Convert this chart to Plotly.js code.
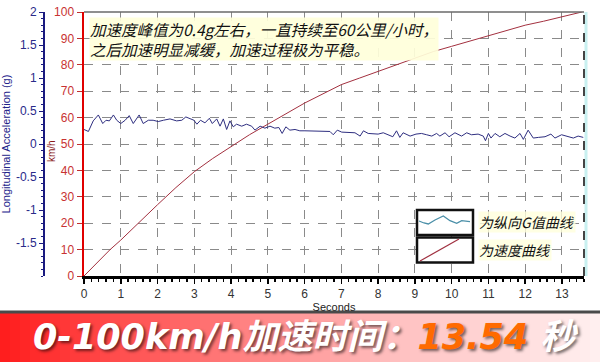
<!DOCTYPE html>
<html>
<head>
<meta charset="utf-8">
<script src="https://cdn.plot.ly/plotly-3.0.1.min.js"></script>
<style>html,body{margin:0;padding:0;background:#fff;}#chart{width:600px;height:362px;}</style>
</head>
<body>
<div id="chart"></div>
<script>
// ---- data ----
const gTime = [0.00,0.12,0.25,0.39,0.51,0.60,0.69,0.80,0.89,1.00,1.12,1.23,1.34,1.41,1.50,1.61,1.75,1.88,2.02,2.16,2.34,2.52,2.66,2.77,2.88,2.99,3.07,3.17,3.29,3.41,3.49,3.61,3.70,3.79,3.88,3.97,4.06,4.15,4.29,4.42,4.56,4.65,4.79,4.92,5.06,5.19,5.30,5.39,5.49,5.60,5.74,5.87,6.01,6.19,6.37,6.55,6.69,6.78,6.89,7.01,7.19,7.37,7.51,7.60,7.73,7.87,8.00,8.14,8.28,8.40,8.50,8.59,8.68,8.87,9.03,9.18,9.32,9.46,9.59,9.68,9.82,9.93,10.09,10.27,10.41,10.54,10.72,10.86,10.92,11.00,11.07,11.18,11.31,11.45,11.59,11.72,11.86,11.95,12.08,12.22,12.36,12.54,12.70,12.81,12.99,13.13,13.31,13.44,13.58];
const gValue = [0.22,0.19,0.35,0.44,0.31,0.36,0.35,0.44,0.36,0.31,0.36,0.43,0.31,0.36,0.44,0.31,0.36,0.36,0.34,0.36,0.38,0.35,0.36,0.41,0.38,0.36,0.30,0.36,0.32,0.39,0.31,0.38,0.27,0.38,0.22,0.35,0.26,0.30,0.27,0.30,0.27,0.21,0.27,0.24,0.27,0.24,0.25,0.16,0.26,0.21,0.22,0.20,0.20,0.20,0.19,0.20,0.19,0.14,0.21,0.18,0.18,0.17,0.12,0.20,0.16,0.16,0.15,0.17,0.14,0.11,0.20,0.10,0.17,0.12,0.15,0.16,0.14,0.12,0.16,0.12,0.17,0.11,0.17,0.12,0.17,0.14,0.15,0.12,0.05,0.16,0.09,0.16,0.11,0.16,0.12,0.09,0.16,0.07,0.21,0.09,0.10,0.11,0.15,0.09,0.14,0.12,0.09,0.12,0.10];
const speedTime = [0,0.25,0.5,0.71,1,1.5,2,2.5,3,3.5,4,4.5,5,5.5,6,6.5,7,7.5,8,8.5,9,9.5,10,10.5,11,11.5,12,12.5,13,13.54];
const speedValue = [0,3.5,7,10,13.6,20.5,27,33.5,39.5,44.5,49,53.5,57.5,61.5,65.5,69,72.5,75,77.5,80,82.5,85,87,89,91,93,95,96.5,98.3,100];
const gTickVals = [-1.5,-1,-0.5,0,0.5,1,1.5,2];
const gTickText = ['-1.5','-1','-0.5','0','0.5','1','1.5','2'];
const noteLines = ['加速度峰值为0.4g左右，一直持续至60公里/小时，','之后加速明显减缓，加速过程极为平稳。'];
const legendLabels = ['为纵向G值曲线','为速度曲线'];
const speedAxisTitle = 'km/h';
const bannerMain = '0-100km/h加速时间：';
const bannerValue = '13.54';
const bannerUnit = '秒';

// ---- layout helpers (pixel -> paper) ----
const ML = 44, MT = 12, PW = 540, PH = 264;
const px = x => (x - ML) / PW;
const py = y => (MT + PH - y) / PH;

const shapes = [];
// banner gradient
const stops = [[0,[255,28,28]],[0.35,[255,115,115]],[0.65,[255,190,190]],[1,[255,240,240]]];
function grad(t){
  for (let i=0;i<stops.length-1;i++){
    const [a,ca]=stops[i],[b,cb]=stops[i+1];
    if (t>=a && t<=b){const f=(t-a)/(b-a);return 'rgb('+ca.map((c,k)=>Math.round(c+(cb[k]-c)*f)).join(',')+')';}
  }
  return 'rgb(255,240,240)';
}
for (let i=0;i<60;i++){
  shapes.push({type:'rect',xref:'paper',yref:'paper',x0:px(i*10),x1:px(i*10+11),y0:py(362),y1:py(312),
    fillcolor:grad((i*10+5)/600),line:{width:0},layer:'below'});
}
shapes.push({type:'line',xref:'paper',yref:'paper',x0:px(0),x1:px(600),y0:py(312),y1:py(312),line:{color:'#4a4a4a',width:3}});
// top border and right dashed border
shapes.push({type:'line',xref:'paper',yref:'paper',x0:px(84),x1:px(584),y0:1,y1:1,line:{color:'#6a6a6a',width:1.5}});
shapes.push({type:'line',xref:'paper',yref:'paper',x0:px(586),x1:px(586),y0:0,y1:1,line:{color:'#c8f0f0',width:3},layer:'below'});
shapes.push({type:'line',xref:'paper',yref:'paper',x0:1,x1:1,y0:0,y1:1,line:{color:'#444',width:2,dash:'dash'}});
// legend boxes
[[210,235],[237.5,262.5]].forEach(([a,b])=>{
  shapes.push({type:'rect',xref:'paper',yref:'paper',x0:px(417),x1:px(473),y0:py(b),y1:py(a),
    fillcolor:'#fff',line:{color:'#111',width:2.5}});
});
const wave = [[419,221],[424,223],[428.3,224],[435,220],[443.3,216],[450,220.7],[456.7,223.3],[461.7,220.7],[470,221.7]];
shapes.push({type:'path',xref:'paper',yref:'paper',
  path:'M'+wave.map(p=>px(p[0])+','+py(p[1])).join(' L'),line:{color:'#4a8fa8',width:1.3}});
shapes.push({type:'line',xref:'paper',yref:'paper',x0:px(420),y0:py(261),x1:px(459),y1:py(239),line:{color:'#a03040',width:1.2}});

const annotations = [
  {xref:'paper',yref:'paper',x:px(89),y:py(17),xanchor:'left',yanchor:'top',align:'left',showarrow:false,
   text:'<i>'+noteLines[0]+'<br>'+noteLines[1]+'</i>',font:{family:'Noto Sans CJK SC',size:15.5,color:'#111'},
   bgcolor:'rgba(255,255,218,0.92)',borderpad:0},
  {xref:'paper',yref:'paper',x:px(478),y:py(222),xanchor:'left',yanchor:'middle',showarrow:false,
   text:'<i>'+legendLabels[0]+'</i>',font:{family:'Noto Sans CJK SC',size:14,color:'#111'},bgcolor:'rgba(255,255,220,0.8)',borderpad:0},
  {xref:'paper',yref:'paper',x:px(478),y:py(250),xanchor:'left',yanchor:'middle',showarrow:false,
   text:'<i>'+legendLabels[1]+'</i>',font:{family:'Noto Sans CJK SC',size:14,color:'#111'},bgcolor:'rgba(255,255,220,0.8)',borderpad:0},
  {xref:'paper',yref:'paper',x:px(51),y:py(151),xanchor:'center',yanchor:'middle',showarrow:false,textangle:-90,
   text:speedAxisTitle,font:{family:'Liberation Sans, Arial',size:10,color:'#8b1a1a'}},
  {xref:'paper',yref:'paper',x:px(305),y:py(337),xanchor:'center',yanchor:'middle',showarrow:false,
   text:'<b><i>'+bannerMain+'<span style="color:#ff6a00">'+bannerValue+'</span> '+bannerUnit+'</i></b>',
   font:{family:'DejaVu Sans, Noto Sans CJK SC',size:35,color:'#ffffff',shadow:'2px 2px 3px rgba(0,0,0,0.55)'}}
];

const traces = [
  {x:speedTime,y:speedValue,type:'scatter',mode:'lines',xaxis:'x',yaxis:'y',line:{color:'#a3303f',width:1},hoverinfo:'skip'},
  {x:gTime,y:gValue,type:'scatter',mode:'lines',xaxis:'x',yaxis:'y2',line:{color:'#2e2e80',width:1},hoverinfo:'skip'}
];

const layout = {
  width:600,height:362,margin:{l:ML,r:16,t:MT,b:86},
  paper_bgcolor:'#fff',plot_bgcolor:'#fff',showlegend:false,
  xaxis:{domain:[40/540,1],range:[0,13.6],dtick:1,tick0:0,showgrid:true,gridcolor:'#8a8a8a',griddash:'dash',gridwidth:1,
    zeroline:false,showline:true,linecolor:'#000',linewidth:3,ticks:'outside',ticklen:5,tickcolor:'#000',tickwidth:1.5,
    minor:{dtick:0.2,ticklen:3,tickcolor:'#000',showgrid:false},
    tickfont:{family:'Liberation Sans, Arial',size:12,color:'#333'},
    title:{text:'Seconds',font:{family:'Liberation Sans, Arial',size:11,color:'#222'},standoff:1}},
  yaxis:{range:[0,100],dtick:10,showgrid:true,gridcolor:'#8a8a8a',griddash:'dash',gridwidth:1,zeroline:false,
    showline:true,linecolor:'#e00000',linewidth:2.5,ticks:'outside',ticklen:5,tickcolor:'#c03030',
    tickfont:{family:'Liberation Sans, Arial',size:12,color:'#c83232'}},
  yaxis2:{overlaying:'y',anchor:'free',position:0,side:'left',range:[-2,2],tickvals:gTickVals,ticktext:gTickText,
    showgrid:false,zeroline:false,showline:true,linecolor:'#1a1a80',linewidth:2,ticks:'outside',ticklen:4,tickcolor:'#1a1a80',
    minor:{dtick:0.1,ticklen:2,tickcolor:'#1a1a80'},
    tickfont:{family:'Liberation Sans, Arial',size:12,color:'#2a2a8a'},
    title:{text:'Longitudinal Acceleration (g)',font:{family:'Liberation Sans, Arial',size:11,color:'#22228a'},standoff:8}},
  shapes:shapes,annotations:annotations
};

Plotly.newPlot('chart',traces,layout,{staticPlot:true,displayModeBar:false});
</script>
</body>
</html>
